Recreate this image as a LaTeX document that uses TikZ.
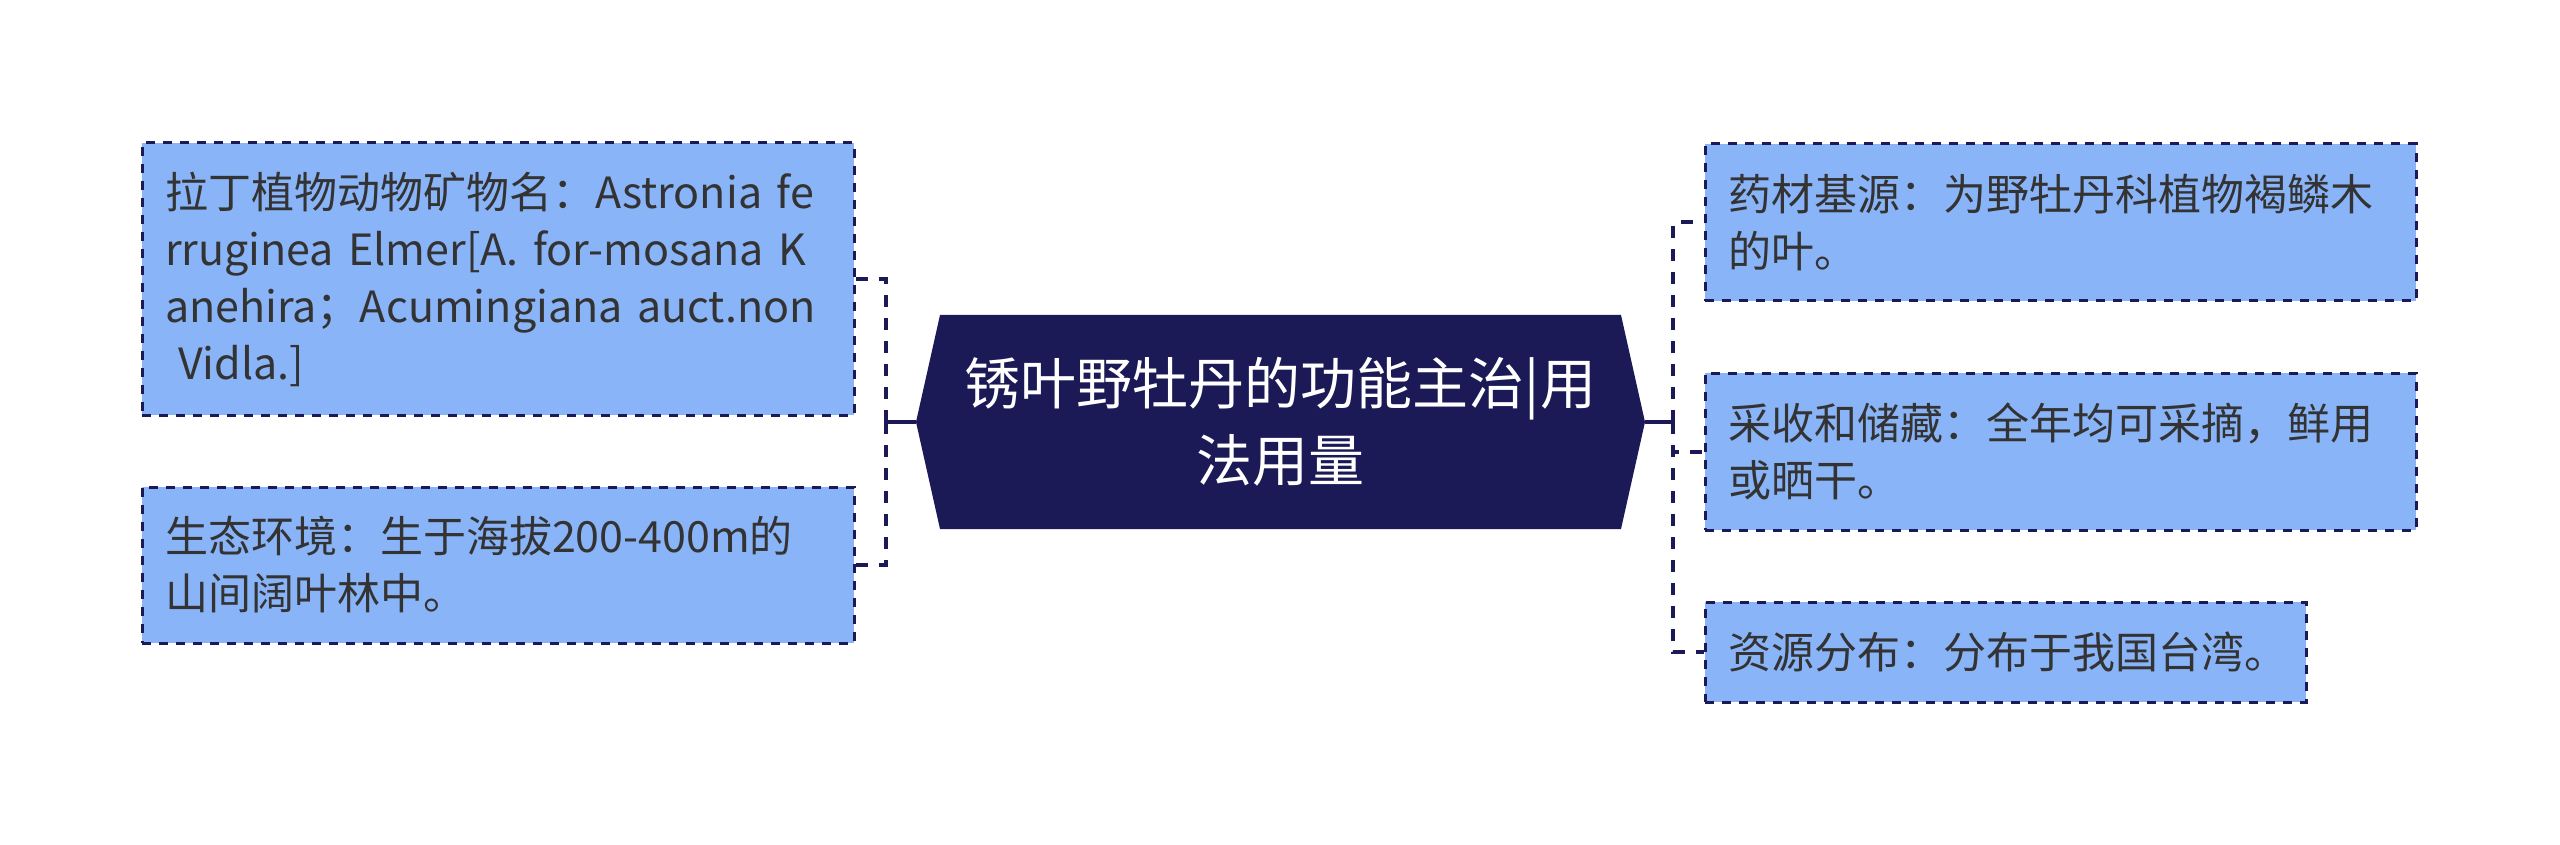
\documentclass[tikz,border=0pt]{standalone}
\usepackage{fontspec}
\newfontfamily\cjk{Noto Sans CJK SC}
\definecolor{navy}{HTML}{1B1A57}
\definecolor{boxblue}{HTML}{8AB4F8}
\definecolor{txt}{HTML}{333333}
\begin{document}
\begin{tikzpicture}[x=0.5pt,y=-0.5pt,
  box/.style={draw=navy, line width=1.5pt, dash pattern=on 4.5pt off 4pt, fill=boxblue, text=txt,
    font=\cjk\fontsize{21.5}{28.5}\selectfont, align=left, inner xsep=11.5pt, inner ysep=0pt, anchor=center},
  conn/.style={draw=navy, line width=2pt, dash pattern=on 6pt off 5.5pt},
  stem/.style={draw=navy, line width=2pt},
  centre/.style={text=white, font=\cjk\fontsize{28}{38.5}\selectfont, align=center, inner sep=0pt}]
\useasboundingbox[fill=white] (0,0) rectangle (2560,845);
% central hexagon
\coordinate (cW) at (916,422);
\coordinate (cE) at (1645,422);
\fill[navy] (940,315) -- (1621,315) -- (cE) -- (1621,529) -- (940,529) -- (cW) -- cycle;
\node[centre] (c) at (1280.5,422) {锈叶野牡丹的功能主治|用\\法用量};
% boxes
\node[box, minimum height=136pt, text width=333pt] (l1) at (498,279)
  {拉丁植物动物矿物名：Astronia fe\\\mbox{rruginea Elmer[A. for-mosana K}\\\mbox{anehira；Acumingiana auct.non}\\\hspace*{6.5pt}Vidla.]};
\node[box, minimum height=78pt, text width=333pt] (l2) at (498,565)
  {生态环境：生于海拔200-400m的\\山间阔叶林中。};
\node[box, minimum height=78.5pt, text width=332.5pt] (r1) at (2060.5,222.5)
  {药材基源：为野牡丹科植物褐鳞木\\的叶。};
\node[box, minimum height=78.5pt, text width=332.5pt] (r2) at (2060.5,451.5)
  {采收和储藏：全年均可采摘，鲜用\\或晒干。};
\node[box, minimum height=50pt, text width=277.5pt] (r3) at (2005.5,652)
  {资源分布：分布于我国台湾。};
% connectors
\coordinate (sl) at (886,422);
\coordinate (sr) at (1673,422);
\draw[stem] (cW) -- (sl);
\draw[stem] (cE) -- (sr);
\draw[conn] (sl) |- (l1.east);
\draw[conn] (sl) |- (l2.east);
\draw[conn] (sr) |- (r1.west);
\draw[conn] (sr) |- (r2.west);
\draw[conn] (sr) |- (r3.west);
\end{tikzpicture}
\end{document}
